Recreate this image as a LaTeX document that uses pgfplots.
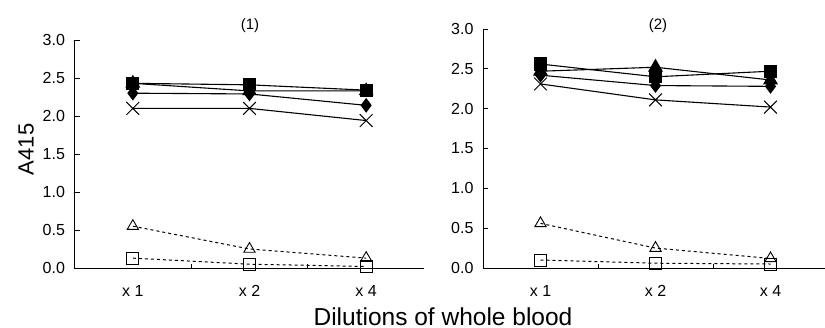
\documentclass[border=0pt]{standalone}
\usepackage{pgfplots}
\pgfplotsset{compat=1.18}
\usepackage{fontspec}
\setmainfont{Liberation Sans}

\pgfplotsset{
 panel/.style={
  scale only axis,
  axis x line*=bottom, axis y line*=left,
  axis line style={-, line width=0.9pt},
  xmin=0.5, xmax=3.5, ymin=0, ymax=3,
  xtick={1,2,3}, xticklabels={x 1,x 2,x 4},
  major x tick style={draw=none},
  minor xtick={1.5,2.5},
  ytick={0,0.5,1,1.5,2,2.5,3},
  yticklabel style={/pgf/number format/fixed, /pgf/number format/fixed zerofill, /pgf/number format/precision=1, xshift=-6pt},
  tick align=inside,
  major tick length=5pt, minor tick length=4pt,
  tick style={black, line width=0.8pt},
  tick label style={font=\fontsize{16}{16}\selectfont},
  xticklabel style={yshift=-14pt},
  /pgf/number format/assume math mode=true,
  clip=false,
 },
 fs/.style={black, line width=1.1pt, mark options={solid}},
 os/.style={black, line width=1pt, dash pattern=on 3pt off 3pt, mark options={solid, fill=white, line width=0.9pt}},
}

\begin{document}
\begin{tikzpicture}[x=1pt,y=1pt]
\path[use as bounding box] (0,0) rectangle (825,328);

% Panel (1)
\begin{axis}[panel, at={(74.5pt,60pt)}, anchor=south west, width=350pt, height=228pt,
  ylabel={A415}, every axis y label/.style={at={(axis description cs:-0.138,0.52)}, rotate=90, anchor=center, font=\fontsize{22}{22}\selectfont}]
\addplot[os, mark=triangle, mark size=6.5pt] coordinates {(1,0.55) (2,0.25) (3,0.13)};
\addplot[os, mark=square, mark size=6pt] coordinates {(1,0.13) (2,0.05) (3,0.02)};
\addplot[fs, mark=x, mark size=9pt, mark options={line width=1pt}] coordinates {(1,2.10) (2,2.10) (3,1.94)};
\addplot[fs, mark=diamond*, mark size=6.5pt] coordinates {(1,2.30) (2,2.29) (3,2.14)};
\addplot[fs, mark=triangle*, mark size=7.5pt] coordinates {(1,2.43) (2,2.33) (3,2.33)};
\addplot[fs, mark=square*, mark size=6pt] coordinates {(1,2.43) (2,2.41) (3,2.34)};
\end{axis}

% Panel (2)
\begin{axis}[panel, at={(483pt,60pt)}, anchor=south west, width=345pt, height=239pt]
\addplot[os, mark=triangle, mark size=6.5pt] coordinates {(1,0.56) (2,0.25) (3,0.12)};
\addplot[os, mark=square, mark size=6pt] coordinates {(1,0.10) (2,0.06) (3,0.05)};
\addplot[fs, mark=x, mark size=9pt, mark options={line width=1pt}] coordinates {(1,2.31) (2,2.11) (3,2.02)};
\addplot[fs, mark=diamond*, mark size=6.5pt] coordinates {(1,2.42) (2,2.29) (3,2.28)};
\addplot[fs, mark=triangle*, mark size=7.5pt] coordinates {(1,2.47) (2,2.52) (3,2.36)};
\addplot[fs, mark=square*, mark size=6pt] coordinates {(1,2.56) (2,2.40) (3,2.47)};
\end{axis}

\node[font=\fontsize{15}{15}\selectfont] at (250,302) {(1)};
\node[font=\fontsize{15}{15}\selectfont] at (658,302) {(2)};
\node[font=\fontsize{24.5}{24.5}\selectfont, anchor=base] at (443,2) {Dilutions of whole blood};
\end{tikzpicture}
\end{document}
